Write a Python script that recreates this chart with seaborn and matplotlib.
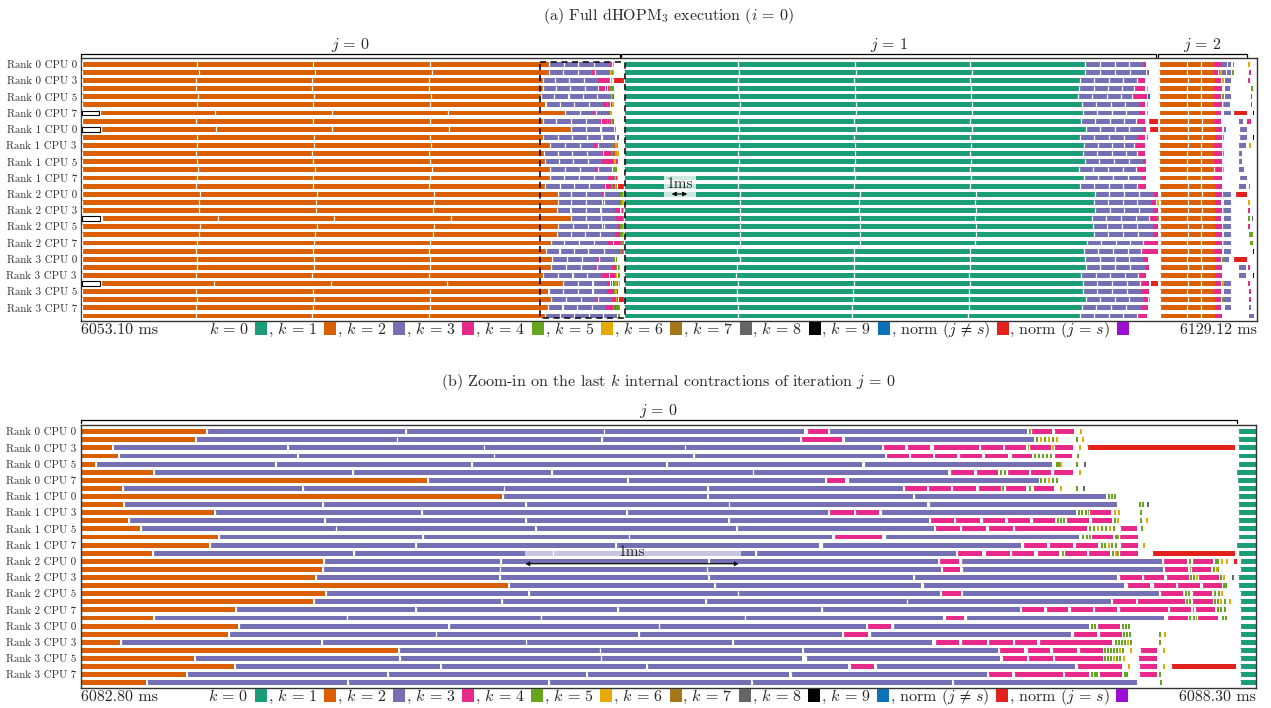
import matplotlib
matplotlib.use("Agg")
import matplotlib.pyplot as plt
from matplotlib.patches import Patch, Rectangle
from matplotlib.transforms import blended_transform_factory
import numpy as np
import pandas as pd
import seaborn as sns

# ---------------------------------------------------------------- data ----
row_labels = ["Rank 0 CPU 0", "Rank 0 CPU 3", "Rank 0 CPU 5", "Rank 0 CPU 7",
              "Rank 1 CPU 0", "Rank 1 CPU 3", "Rank 1 CPU 5", "Rank 1 CPU 7",
              "Rank 2 CPU 0", "Rank 2 CPU 3", "Rank 2 CPU 5", "Rank 2 CPU 7",
              "Rank 3 CPU 0", "Rank 3 CPU 3", "Rank 3 CPU 5", "Rank 3 CPU 7"]
N_ROWS = 32

task_labels = ["$k \\,=\\, 0$", "$k \\,=\\, 1$", "$k \\,=\\, 2$", "$k \\,=\\, 3$", "$k \\,=\\, 4$",
               "$k \\,=\\, 5$", "$k \\,=\\, 6$", "$k \\,=\\, 7$", "$k \\,=\\, 8$", "$k \\,=\\, 9$",
               "norm ($j \\,\\neq\\, s$)", "norm ($j \\,=\\, s$)"]

full_range_ms = (6053.10, 6129.12)
zoom_range_ms = (6082.80, 6088.30)

iter_labels = ["$j \\,=\\, 0$", "$j \\,=\\, 1$", "$j \\,=\\, 2$"]
iter_spans_ms = [(6053.10, 6087.94), (6088.05, 6122.63), (6122.74, 6128.52)]
zoom_iter_span_ms = (6082.80, 6088.21)

# rows that begin with a delayed start-up slot
startup_rows = [6, 8, 19, 27]
startup_start_ms = 6053.16
startup_end_ms = [6054.24, 6054.30, 6054.36, 6054.30]

# ---- iteration j = 0 ------------------------------------------------------
j0_k1_start_ms = [6053.17, 6053.17, 6053.17, 6053.17, 6053.19, 6053.17, 6054.35, 6053.17,
                  6054.40, 6053.17, 6053.17, 6053.17, 6053.17, 6053.17, 6053.17, 6053.17,
                  6053.17, 6053.17, 6053.17, 6054.45, 6053.17, 6053.17, 6053.17, 6053.17,
                  6053.17, 6053.17, 6053.17, 6054.38, 6053.17, 6053.17, 6053.17, 6053.17]
j0_k1_breaks_ms = [
    [6060.58, 6068.12, 6075.66], [6060.70, 6068.25, 6075.80], [6060.52, 6068.02, 6075.58],
    [6060.52, 6068.02, 6075.60], [6060.64, 6068.20, 6075.72], [6060.58, 6068.10, 6075.64],
    [6061.76, 6069.30, 6076.84], [6060.56, 6068.12, 6075.66], [6061.80, 6069.34, 6076.90],
    [6060.60, 6068.14, 6075.68], [6060.62, 6068.16, 6075.74], [6060.54, 6068.06, 6075.62],
    [6060.60, 6068.12, 6075.66], [6060.66, 6068.22, 6075.78], [6060.58, 6068.10, 6075.68],
    [6060.56, 6068.08, 6075.62], [6060.78, 6068.36, 6075.92], [6060.76, 6068.32, 6075.90],
    [6060.70, 6068.28, 6075.86], [6061.96, 6069.48, 6077.02], [6060.80, 6068.38, 6075.94],
    [6060.70, 6068.26, 6075.84], [6060.60, 6068.14, 6075.70], [6060.56, 6068.08, 6075.62],
    [6060.62, 6068.16, 6075.70], [6060.60, 6068.14, 6075.68], [6060.52, 6068.04, 6075.58],
    [6061.72, 6069.26, 6076.78], [6060.56, 6068.08, 6075.64], [6060.62, 6068.16, 6075.70],
    [6060.56, 6068.10, 6075.64], [6060.54, 6068.06, 6075.60]]

# events inside the zoom window, in microseconds after 6082.80 ms
k1_end_us = [585, 535, 148, 176, 66, 338, 1619, 195, 1972, 198, 625, 223, 279, 644, 600, 332,
             1135, 1129, 1097, 1998, 1143, 1089, 722, 340, 738, 691, 184, 1486, 530, 717, 493, 306]

k2_us = [
    [[589, 1519], [1523, 2447], [2451, 3386], [3502, 4429]],
    [[539, 1478], [1482, 2436], [2440, 3366], [3571, 4461]],
    [[152, 967], [971, 1885], [1889, 2826], [2830, 3750]],
    [[180, 1014], [1018, 1932], [1936, 2864], [2868, 3764]],
    [[70, 909], [913, 1825], [1829, 2740], [2744, 3654], [3666, 4546]],
    [[342, 1268], [1272, 2202], [2206, 3144], [3148, 4059]],
    [[1623, 2555], [2559, 3483], [3591, 4483]],
    [[199, 1037], [1041, 1979], [1983, 2932], [2936, 3848]],
    [[1976, 2932], [2936, 3895], [3900, 4798]],
    [[202, 1131], [1135, 2081], [2085, 3032], [3036, 3960], [3970, 4849]],
    [[629, 1594], [1598, 2553], [2557, 3497], [3745, 4658]],
    [[227, 1140], [1144, 2081], [2085, 3029], [3033, 3970]],
    [[283, 1193], [1197, 2126], [2130, 3065], [3069, 3994]],
    [[648, 1599], [1603, 2564], [2568, 3516], [3763, 4672]],
    [[604, 1563], [1567, 2502], [2506, 3455], [3468, 4399]],
    [[336, 1274], [1278, 2208], [2212, 3154], [3158, 4095]],
    [[1139, 1964], [1968, 2935], [2939, 4014], [4118, 5062]],
    [[1133, 1960], [1964, 2929], [2933, 4025], [4124, 5067]],
    [[1101, 1956], [1960, 2934], [2938, 3895], [3901, 4851]],
    [[2002, 2963], [2967, 3934], [3943, 4883]],
    [[1147, 2093], [2097, 3074], [3078, 4022], [4124, 5046]],
    [[1093, 1968], [1972, 2920], [2924, 3865], [3869, 4822]],
    [[726, 1563], [1567, 2509], [2513, 3463], [3471, 4396]],
    [[344, 1244], [1248, 2152], [2156, 3107], [3111, 4037], [4143, 5071]],
    [[742, 1718], [1722, 2704], [2708, 3674], [3800, 4720]],
    [[695, 1661], [1665, 2608], [2612, 3561], [3694, 4635]],
    [[188, 1123], [1127, 2082], [2086, 3048], [3052, 3986]],
    [[1490, 2428], [2432, 3374], [3382, 4292]],
    [[534, 1489], [1493, 2433], [2437, 3377], [3393, 4302]],
    [[721, 1683], [1687, 2644], [2648, 3592], [3721, 4653]],
    [[497, 1435], [1439, 2363], [2367, 3315], [3323, 4240]],
    [[310, 1248], [1252, 2186], [2190, 3138], [3142, 4076], [4080, 4945]]]

k3_us = [
    [[3399, 3497], [4448, 4547], [4556, 4649]],
    [[3371, 3563]],
    [[3753, 3859], [3867, 3975], [3987, 4204], [4209, 4315], [4321, 4424], [4438, 4540], [4556, 4645]],
    [[3767, 3876], [3881, 3989], [3993, 4102], [4110, 4219], [4226, 4338], [4352, 4452], [4556, 4639]],
    [],
    [[4067, 4181], [4189, 4292], [4334, 4438], [4443, 4541], [4551, 4644]],
    [[3488, 3577]],
    [[3853, 3959], [3965, 4073], [4078, 4189], [4198, 4307], [4326, 4424], [4457, 4556]],
    [],
    [],
    [[3502, 3618], [3624, 3736], [4719, 4822]],
    [[3975, 4087], [4092, 4209], [4217, 4326], [4334, 4443], [4451, 4560], [4610, 4719], [4727, 4825]],
    [[3998, 4115], [4120, 4237], [4244, 4362], [4368, 4708], [4864, 4942]],
    [[3524, 3752], [4728, 4831], [4858, 4948]],
    [[4409, 4521], [4532, 4643], [4655, 4762], [4864, 4950]],
    [[4100, 4217], [4232, 4349], [4354, 4463], [4474, 4580], [4602, 4708], [4716, 4817], [4859, 4950]],
    [[4017, 4112], [5067, 5179], [5199, 5301]],
    [[4031, 4115], [5070, 5183], [5195, 5290]],
    [[4858, 4965], [4970, 5071], [5078, 5187], [5230, 5329]],
    [[4895, 5004], [5017, 5125], [5132, 5238], [5248, 5340]],
    [[4026, 4120], [5053, 5160], [5199, 5293]],
    [[4828, 4939], [4945, 5168], [5199, 5298]],
    [[4401, 4510], [4518, 4622], [4630, 4736], [4744, 4849], [4861, 5087], [5095, 5196], [5215, 5308]],
    [[4045, 4135], [5082, 5181], [5226, 5324]],
    [[3681, 3792], [4758, 4864]],
    [[3569, 3686], [4643, 4755], [4766, 4872]],
    [[3998, 4112], [4120, 4240], [4245, 4362], [4368, 4477], [4485, 4825]],
    [[4298, 4416], [4427, 4536], [4546, 4661], [4673, 4783], [4958, 5039]],
    [[4313, 4427], [4433, 4549], [4555, 4783], [4950, 5036]],
    [[3600, 3714], [4661, 4875], [4953, 5039]],
    [[4246, 4357], [4368, 4599], [4603, 4719], [4767, 4872], [4953, 5039]],
    []]

k4_us = [[4438], [4471, 4508, 4546, 4658], [4433], [4462, 4480, 4499, 4518, 4537, 4663],
         [4565, 4574, 4660], [4302, 4321], [4490, 4509, 4546, 4565], [4312, 4438, 4660],
         [4808, 4822, 4836], [4953, 4965], [4667, 4681, 4700, 4714, 4958], [4570, 4584, 4598, 4836, 4958],
         [4719, 4738, 4775, 4794, 4831, 4961], [4687, 4705, 4719, 4841, 4850], [4775, 4789, 4822, 4841],
         [4593, 4827, 4850], [5187, 5309, 5318], [5189, 5299, 5318], [5191, 5205, 5332], [5346, 5355],
         [5168, 5182, 5304, 5323], [5173, 5187, 5304, 5318, 5351], [5203, 5318, 5332, 5351],
         [5187, 5205, 5219, 5341, 5355], [4729, 4743, 4873, 4887, 4901], [4878, 4892, 4906, 5048],
         [4840, 4854, 4868, 4882, 4910, 5048], [4789, 4803, 4817, 4831, 4845, 4873],
         [4789, 4803, 4817, 4845, 4859], [], [4729, 4743, 4752, 4883, 4892, 5048], [5051]]

k5_us = [[4676], [4490, 4527, 4564, 4686], [4546, 4673], [], [4584], [4672], [4527], [4584],
         [], [], [4836, 4855], [4850, 4986], [4756, 4813], [], [4808, 4972], [4841],
         [5337, 5360], [5313], [5219, 5346], [], [5337], [5332, 5374], [], [],
         [], [5071], [4896], [4859, 4911, 5066], [4831, 4878], [4900, 5066], [], []]

k7_us = {4: [4696], 7: [4691], 9: [4990], 18: [5388]}

norm_us = {2: [[4709, 5402]], 15: [[5012, 5402]], 16: [[5397, 5410]], 29: [[5101, 5405]]}

# ---- iteration j = 1 ------------------------------------------------------
j1_start_us = [5415, 5415, 5415, 5415, 5415, 5405, 5410, 5415, 5415, 5415, 5415, 5415, 5415, 5415, 5405, 5415,
               5425, 5425, 5416, 5416, 5425, 5425, 5425, 5425, 5425, 5425, 5425, 5425, 5425, 5425, 5425, 5425]

j1_k0_breaks_ms = [
    [6095.60, 6103.14, 6110.62], [6095.66, 6103.20, 6110.70], [6095.58, 6103.10, 6110.58],
    [6095.62, 6103.16, 6110.64], [6095.64, 6103.18, 6110.66], [6095.70, 6103.22, 6110.72],
    [6095.68, 6103.20, 6110.70], [6095.60, 6103.12, 6110.60], [6095.66, 6103.20, 6110.72],
    [6095.58, 6103.10, 6110.60], [6095.64, 6103.18, 6110.66], [6095.62, 6103.14, 6110.62],
    [6095.66, 6103.18, 6110.68], [6095.58, 6103.12, 6110.58], [6095.62, 6103.16, 6110.64],
    [6095.60, 6103.12, 6110.60], [6095.72, 6103.46, 6110.96], [6095.70, 6103.42, 6110.92],
    [6095.70, 6103.44, 6110.96], [6095.72, 6103.46, 6110.94], [6095.72, 6103.46, 6110.98],
    [6095.72, 6103.46, 6110.96], [6095.70, 6103.46, 6110.90], [6095.52, 6103.06, 6110.56],
    [6095.70, 6103.06, 6110.58], [6095.52, 6103.06, 6110.56], [6095.48, 6103.06, 6110.54],
    [6095.60, 6103.06, 6110.58], [6095.52, 6103.02, 6110.54], [6095.52, 6103.02, 6110.52],
    [6095.60, 6102.98, 6110.50], [6095.60, 6102.94, 6110.48]]
j1_k0_end_ms = [6118.05, 6118.05, 6117.70, 6117.63, 6117.57, 6117.81, 6117.89, 6117.74,
                6118.07, 6117.68, 6117.94, 6117.89, 6118.05, 6117.63, 6117.96, 6117.68,
                6118.65, 6118.60, 6118.69, 6118.47, 6118.54, 6118.60, 6118.15, 6117.96,
                6118.05, 6118.07, 6117.79, 6117.89, 6117.89, 6118.07, 6117.83, 6117.68]
j1_k2_breaks_ms = [
    [6119.00, 6119.95, 6120.90], [6119.00, 6119.95, 6120.92], [6118.62, 6119.58, 6120.50],
    [6118.58, 6119.52, 6120.45], [6118.50, 6119.45, 6120.38], [6118.76, 6119.70, 6120.64],
    [6118.82, 6119.78, 6120.70], [6118.68, 6119.62, 6120.55], [6119.00, 6119.96, 6120.90],
    [6118.62, 6119.58, 6120.52], [6118.86, 6119.80, 6120.52], [6118.82, 6119.76, 6120.68],
    [6118.96, 6119.90, 6120.85], [6118.56, 6119.50, 6120.46], [6118.90, 6119.85, 6120.80],
    [6118.62, 6119.56, 6120.50], [6119.58, 6120.54, 6121.50], [6119.54, 6120.48, 6121.42],
    [6119.62, 6120.58, 6121.52], [6119.40, 6120.36, 6121.30], [6119.48, 6120.44, 6121.40],
    [6119.54, 6120.50, 6121.44], [6119.08, 6120.02, 6120.96], [6118.90, 6119.84, 6120.78],
    [6118.98, 6119.94, 6120.88], [6119.00, 6119.96, 6120.92], [6118.72, 6119.66, 6120.62],
    [6118.82, 6119.78, 6120.72], [6118.82, 6119.78, 6120.74], [6119.00, 6119.96, 6120.90],
    [6118.76, 6119.72, 6120.66], [6118.62, 6119.56, 6120.50]]
j1_k2_end_ms = [6121.77, 6121.88, 6121.38, 6121.17, 6121.08, 6121.49, 6121.51, 6121.34,
                6121.77, 6121.45, 6121.23, 6121.38, 6121.77, 6121.30, 6121.73, 6121.38,
                6122.48, 6122.31, 6122.42, 6122.20, 6122.42, 6122.42, 6121.81, 6121.67,
                6121.77, 6121.88, 6121.45, 6121.56, 6121.67, 6121.84, 6121.67, 6121.38]
j1_k3_end_ms = [6121.98, 6121.98, 6121.94, 6121.90, 6122.05, 6121.94, 6121.94, 6121.94,
                6121.98, 6121.94, 6121.94, 6121.88, 6121.98, 6121.98, 6121.98, 6121.98,
                6122.74, 6122.63, 6122.74, 6122.74, 6122.74, 6122.74, 6122.74, 6122.74,
                6122.09, 6122.20, 6121.98, 6122.20, 6122.16, 6122.09, 6122.09, 6122.05]
j1_norm_ms = {7: [6122.09, 6122.78], 8: [6122.20, 6122.78], 27: [6122.27, 6122.74]}
j1_marks = [(1, 6122.02, 4), (1, 6122.10, 7), (3, 6122.02, 5), (4, 6122.12, 9), (5, 6122.02, 5),
            (6, 6122.02, 5), (9, 6122.02, 4), (17, 6122.70, 5), (19, 6122.70, 4), (29, 6122.16, 5)]

# ---- iteration j = 2 ------------------------------------------------------
j2_k1_start_ms = [6122.80] * 16 + [6122.85] * 16
j2_k1_breaks_ms = [
    [6124.64, 6125.53], [6124.62, 6125.55], [6124.66, 6125.56], [6124.60, 6125.50],
    [6124.64, 6125.54], [6124.62, 6125.52], [6124.66, 6125.56], [6124.68, 6125.58],
    [6124.68, 6125.60], [6124.70, 6125.60], [6124.66, 6125.56], [6124.64, 6125.54],
    [6124.62, 6125.52], [6124.60, 6125.50], [6124.64, 6125.54], [6124.66, 6125.56],
    [6124.68, 6125.58], [6124.66, 6125.56], [6124.70, 6125.60], [6124.64, 6125.54],
    [6124.66, 6125.58], [6124.68, 6125.56], [6124.62, 6125.52], [6124.66, 6125.56],
    [6124.64, 6125.54], [6124.68, 6125.58], [6124.62, 6125.54], [6124.66, 6125.56],
    [6124.64, 6125.52], [6124.66, 6125.56], [6124.62, 6125.54], [6124.64, 6125.56]]
j2_k1_end_ms = [6126.40, 6126.40, 6126.42, 6126.38, 6126.40, 6126.40, 6126.42, 6126.40,
                6126.44, 6126.42, 6126.40, 6126.40, 6126.40, 6126.36, 6126.40, 6126.42,
                6126.46, 6126.44, 6126.46, 6126.44, 6126.46, 6126.46, 6126.44, 6126.40,
                6126.44, 6126.46, 6126.44, 6126.46, 6126.40, 6126.44, 6126.44, 6126.46]
j2_k3_end_ms = [6126.86, 6126.60, 6126.80, 6126.86, 6126.80, 6126.86, 6126.80, 6126.80,
                6126.86, 6126.86, 6126.86, 6126.86, 6126.86, 6126.86, 6126.86, 6126.86,
                6126.86, 6126.80, 6126.86, 6126.80, 6126.86, 6126.86, 6126.86, 6126.86,
                6126.80, 6126.86, 6126.86, 6126.80, 6126.80, 6126.80, 6126.80, 6126.86]
j2_k2_ms = [
    [[6126.92, 6127.22], [6127.25, 6127.50]], [[6126.90, 6127.15], [6127.20, 6127.45]],
    [[6127.11, 6127.50]], [[6127.11, 6127.40]], [[6127.11, 6127.50]], [[6127.05, 6127.40]],
    [[6127.05, 6127.50]], [[6127.96, 6128.25]], [[6127.05, 6127.15], [6127.96, 6128.53]],
    [[6127.96, 6128.53]], [[6127.96, 6128.41]], [[6127.96, 6128.21]], [[6127.96, 6128.21]],
    [[6127.96, 6128.30]], [[6127.96, 6128.53]], [[6127.96, 6128.41]], [[6127.05, 6127.50]],
    [[6127.05, 6127.50]], [[6127.05, 6127.50]], [[6127.05, 6127.50]], [[6127.05, 6127.50]],
    [[6127.05, 6127.50]], [[6127.05, 6127.50]], [[6127.05, 6127.50]], [[6127.05, 6127.37]],
    [[6127.96, 6128.41]], [[6127.96, 6128.41]], [[6127.05, 6127.50]], [[6127.05, 6127.50]],
    [[6127.05, 6127.50]], [[6127.11, 6127.50], [6128.66, 6128.75]], [[6128.66, 6128.96]]]
j2_late_k3_ms = {1: [6128.63, 6128.78], 2: [6128.60, 6128.68], 4: [6128.74, 6128.80],
                 5: [6128.74, 6128.80], 7: [6128.53, 6128.78], 18: [6128.60, 6128.70],
                 20: [6128.60, 6128.70], 25: [6128.60, 6128.70], 27: [6128.60, 6128.70],
                 28: [6128.66, 6128.74], 29: [6128.66, 6128.74]}
j2_marks = [(0, 6127.57, 4), (0, 6128.60, 5), (1, 6126.68, 4), (1, 6126.78, 5), (1, 6127.55, 4),
            (2, 6126.92, 5), (3, 6128.75, 4), (3, 6128.84, 4), (4, 6126.92, 4), (5, 6126.95, 5),
            (6, 6128.88, 8), (9, 6126.95, 4), (9, 6128.90, 8), (10, 6128.66, 5), (11, 6126.95, 4),
            (13, 6126.95, 5), (15, 6128.62, 4), (16, 6126.95, 4), (17, 6128.60, 5), (18, 6126.95, 5),
            (19, 6128.60, 4), (19, 6128.80, 7), (20, 6126.95, 4), (21, 6128.66, 4), (21, 6128.78, 4),
            (22, 6126.95, 5), (22, 6128.72, 4), (22, 6128.80, 4), (23, 6128.88, 8), (24, 6126.92, 4),
            (26, 6128.90, 8), (27, 6126.92, 5), (29, 6126.92, 4)]
j2_norm_ms = {6: [6127.63, 6128.53], 16: [6127.70, 6128.53], 24: [6127.63, 6128.53]}

scale_bar_full_ms = (6091.30, 6092.30)
scale_bar_zoom_ms = (6084.88, 6085.88)

# ------------------------------------------------------------- styling ----
sns.set_theme(style="white")
plt.rcParams["font.family"] = ["cmr10", "DejaVu Serif"]
plt.rcParams["mathtext.fontset"] = "cm"
plt.rcParams["axes.formatter.use_mathtext"] = True
plt.rcParams["axes.unicode_minus"] = False

task_colors = sns.color_palette("Dark2", 8).as_hex() + ["#000000", "#0b72b5", "#e3211c", "#9a0fd1"]
BAR_H = 0.60
TICK_MS = 0.009
FS = 11.5

# --------------------------------------------------- task segment table ----
records = []


def add(row, start, end, kind):
    records.append((row, start, end, kind))


def zoom_ms(v):
    return zoom_range_ms[0] + v / 1000.0


for r in range(N_ROWS):
    edges = [j0_k1_start_ms[r], *j0_k1_breaks_ms[r], zoom_ms(k1_end_us[r])]
    for s, e in zip(edges[:-1], edges[1:]):
        add(r, s, e, 1)
    for s, e in k2_us[r]:
        add(r, zoom_ms(s), zoom_ms(e), 2)
    for s, e in k3_us[r]:
        add(r, zoom_ms(s), zoom_ms(e), 3)
    for t in k4_us[r]:
        add(r, zoom_ms(t), zoom_ms(t) + TICK_MS, 4)
    for t in k5_us[r]:
        add(r, zoom_ms(t), zoom_ms(t) + TICK_MS, 5)
    for t in k7_us.get(r, []):
        add(r, zoom_ms(t), zoom_ms(t) + TICK_MS, 7)
    for s, e in norm_us.get(r, []):
        add(r, zoom_ms(s), zoom_ms(e), 10)

    edges = [zoom_ms(j1_start_us[r]), *j1_k0_breaks_ms[r], j1_k0_end_ms[r]]
    for s, e in zip(edges[:-1], edges[1:]):
        add(r, s, e, 0)
    edges = [j1_k0_end_ms[r], *j1_k2_breaks_ms[r], j1_k2_end_ms[r]]
    for s, e in zip(edges[:-1], edges[1:]):
        add(r, s, e, 2)
    add(r, j1_k2_end_ms[r], j1_k3_end_ms[r], 3)
    if r in j1_norm_ms:
        add(r, *j1_norm_ms[r], 10)

    edges = [j2_k1_start_ms[r], *j2_k1_breaks_ms[r], j2_k1_end_ms[r]]
    for s, e in zip(edges[:-1], edges[1:]):
        add(r, s, e, 1)
    add(r, j2_k1_end_ms[r], j2_k3_end_ms[r], 3)
    for s, e in j2_k2_ms[r]:
        add(r, s, e, 2)
    if r in j2_late_k3_ms:
        add(r, *j2_late_k3_ms[r], 3)
    if r in j2_norm_ms:
        add(r, *j2_norm_ms[r], 10)

for r, t, k in j1_marks + j2_marks:
    add(r, t, t + TICK_MS, k)

segs = pd.DataFrame(records, columns=["row", "start", "end", "kind"])
segs["dur"] = segs["end"] - segs["start"]

# --------------------------------------------------------------- figure ----
W, H = 1271, 708
fig = plt.figure(figsize=(W / 100, H / 100), dpi=100)
ax_a = fig.add_axes([81 / W, 1 - 321 / H, 1175.5 / W, 263 / H])
ax_b = fig.add_axes([80.7 / W, 1 - 688 / H, 1175.3 / W, 263 / H])


def draw_tasks(ax, xlim, ylim, sep_min):
    ax.set_xlim(*xlim)
    ax.set_ylim(*ylim)
    px = (xlim[1] - xlim[0]) / (ax.get_position().width * W)
    for k, grp in segs.groupby("kind"):
        widths = np.maximum(grp["dur"].to_numpy(), 1.3 * px)
        ax.barh(grp["row"], widths, left=grp["start"], height=BAR_H,
                color=task_colors[k], linewidth=0, zorder=2)
    seps = segs[segs["dur"] >= sep_min]
    ax.vlines(seps["start"], seps["row"] - BAR_H / 2 - 0.05, seps["row"] + BAR_H / 2 + 0.05,
              colors="white", linewidth=0.9, zorder=3)
    for r, e in zip(startup_rows, startup_end_ms):
        ax.add_patch(Rectangle((startup_start_ms, r - BAR_H / 2), e - startup_start_ms, BAR_H,
                               facecolor="white", edgecolor="black", linewidth=0.8, zorder=4))
    ax.set_yticks(np.arange(0, N_ROWS, 2))
    ax.set_yticklabels(row_labels, fontsize=7.8, color="#2b2b2b")
    ax.tick_params(axis="y", length=0, pad=3)
    ax.set_xticks([])
    for sp in ax.spines.values():
        sp.set_color("#333333")
        sp.set_linewidth(1.0)
        sp.set_visible(True)


def draw_braces(ax, spans, labels, y_line, y_text):
    tr = blended_transform_factory(ax.transData, ax.transAxes)
    for (s, e), lab in zip(spans, labels):
        ax.plot([s, s, e, e], [y_line - 0.011, y_line, y_line, y_line - 0.011],
                color="black", linewidth=0.9, transform=tr, clip_on=False)
        ax.text((s + e) / 2, y_text, lab, transform=tr, ha="center", va="baseline", fontsize=FS)


def draw_footer(ax, xlim):
    handles = [Patch(facecolor=c, edgecolor="none") for c in task_colors]
    labels = [task_labels[0]] + [", " + lab for lab in task_labels[1:]]
    ax.legend(handles, labels, loc="center", bbox_to_anchor=(0.5, -0.034), ncol=len(labels),
              frameon=False, markerfirst=False, handlelength=0.75, handleheight=0.8,
              handletextpad=0.4, columnspacing=0.05, borderpad=0, borderaxespad=0, fontsize=FS)
    ax.text(0, -0.034, f"{xlim[0]:.2f} ms", transform=ax.transAxes, ha="left", va="center", fontsize=FS)
    ax.text(1, -0.034, f"{xlim[1]:.2f} ms", transform=ax.transAxes, ha="right", va="center", fontsize=FS)


def draw_scale(ax, span, y_text, y_arrow, box, alpha):
    mid = (span[0] + span[1]) / 2
    ax.add_patch(Rectangle((box[0], box[2]), box[1] - box[0], box[3] - box[2],
                           facecolor="white", alpha=alpha, linewidth=0, zorder=6))
    ax.text(mid, y_text, "1ms", ha="center", va="center", fontsize=11, zorder=7)
    ax.annotate("", xy=(span[1], y_arrow), xytext=(span[0], y_arrow),
                arrowprops=dict(arrowstyle="<|-|>", color="black", lw=0.8, mutation_scale=6,
                                shrinkA=0, shrinkB=0), zorder=7)


# (a) full execution
draw_tasks(ax_a, full_range_ms, (31.61, -0.78), 0.5)
ax_a.add_patch(Rectangle((zoom_range_ms[0], -0.28), zoom_range_ms[1] - zoom_range_ms[0], 31.48,
                         fill=False, edgecolor="black", linewidth=1.1, linestyle=(0, (4, 3)), zorder=5))
draw_scale(ax_a, scale_bar_full_ms, 14.7, 15.97, (6090.83, 6092.90, 13.75, 16.5), 0.78)
draw_braces(ax_a, iter_spans_ms, iter_labels, 1.016, 1.034)
draw_footer(ax_a, full_range_ms)

# (b) zoom on the end of iteration j = 0
draw_tasks(ax_b, zoom_range_ms, (31.64, -0.83), 0.05)
draw_scale(ax_b, scale_bar_zoom_ms, 14.85, 16.3, (6084.88, 6085.89, 14.3, 15.4), 0.6)
draw_braces(ax_b, [zoom_iter_span_ms], [iter_labels[0]], 1.019, 1.038)
draw_footer(ax_b, zoom_range_ms)

fig.text(668.7 / W, 1 - 20 / H, "(a) Full dHOPM$_3$ execution ($i \\,=\\, 0$)",
         ha="center", va="baseline", fontsize=FS)
fig.text(668.7 / W, 1 - 386 / H,
         "(b) Zoom-in on the last $k$ internal contractions of iteration $j \\,=\\, 0$",
         ha="center", va="baseline", fontsize=FS)

fig.savefig("out.png", dpi=100)
